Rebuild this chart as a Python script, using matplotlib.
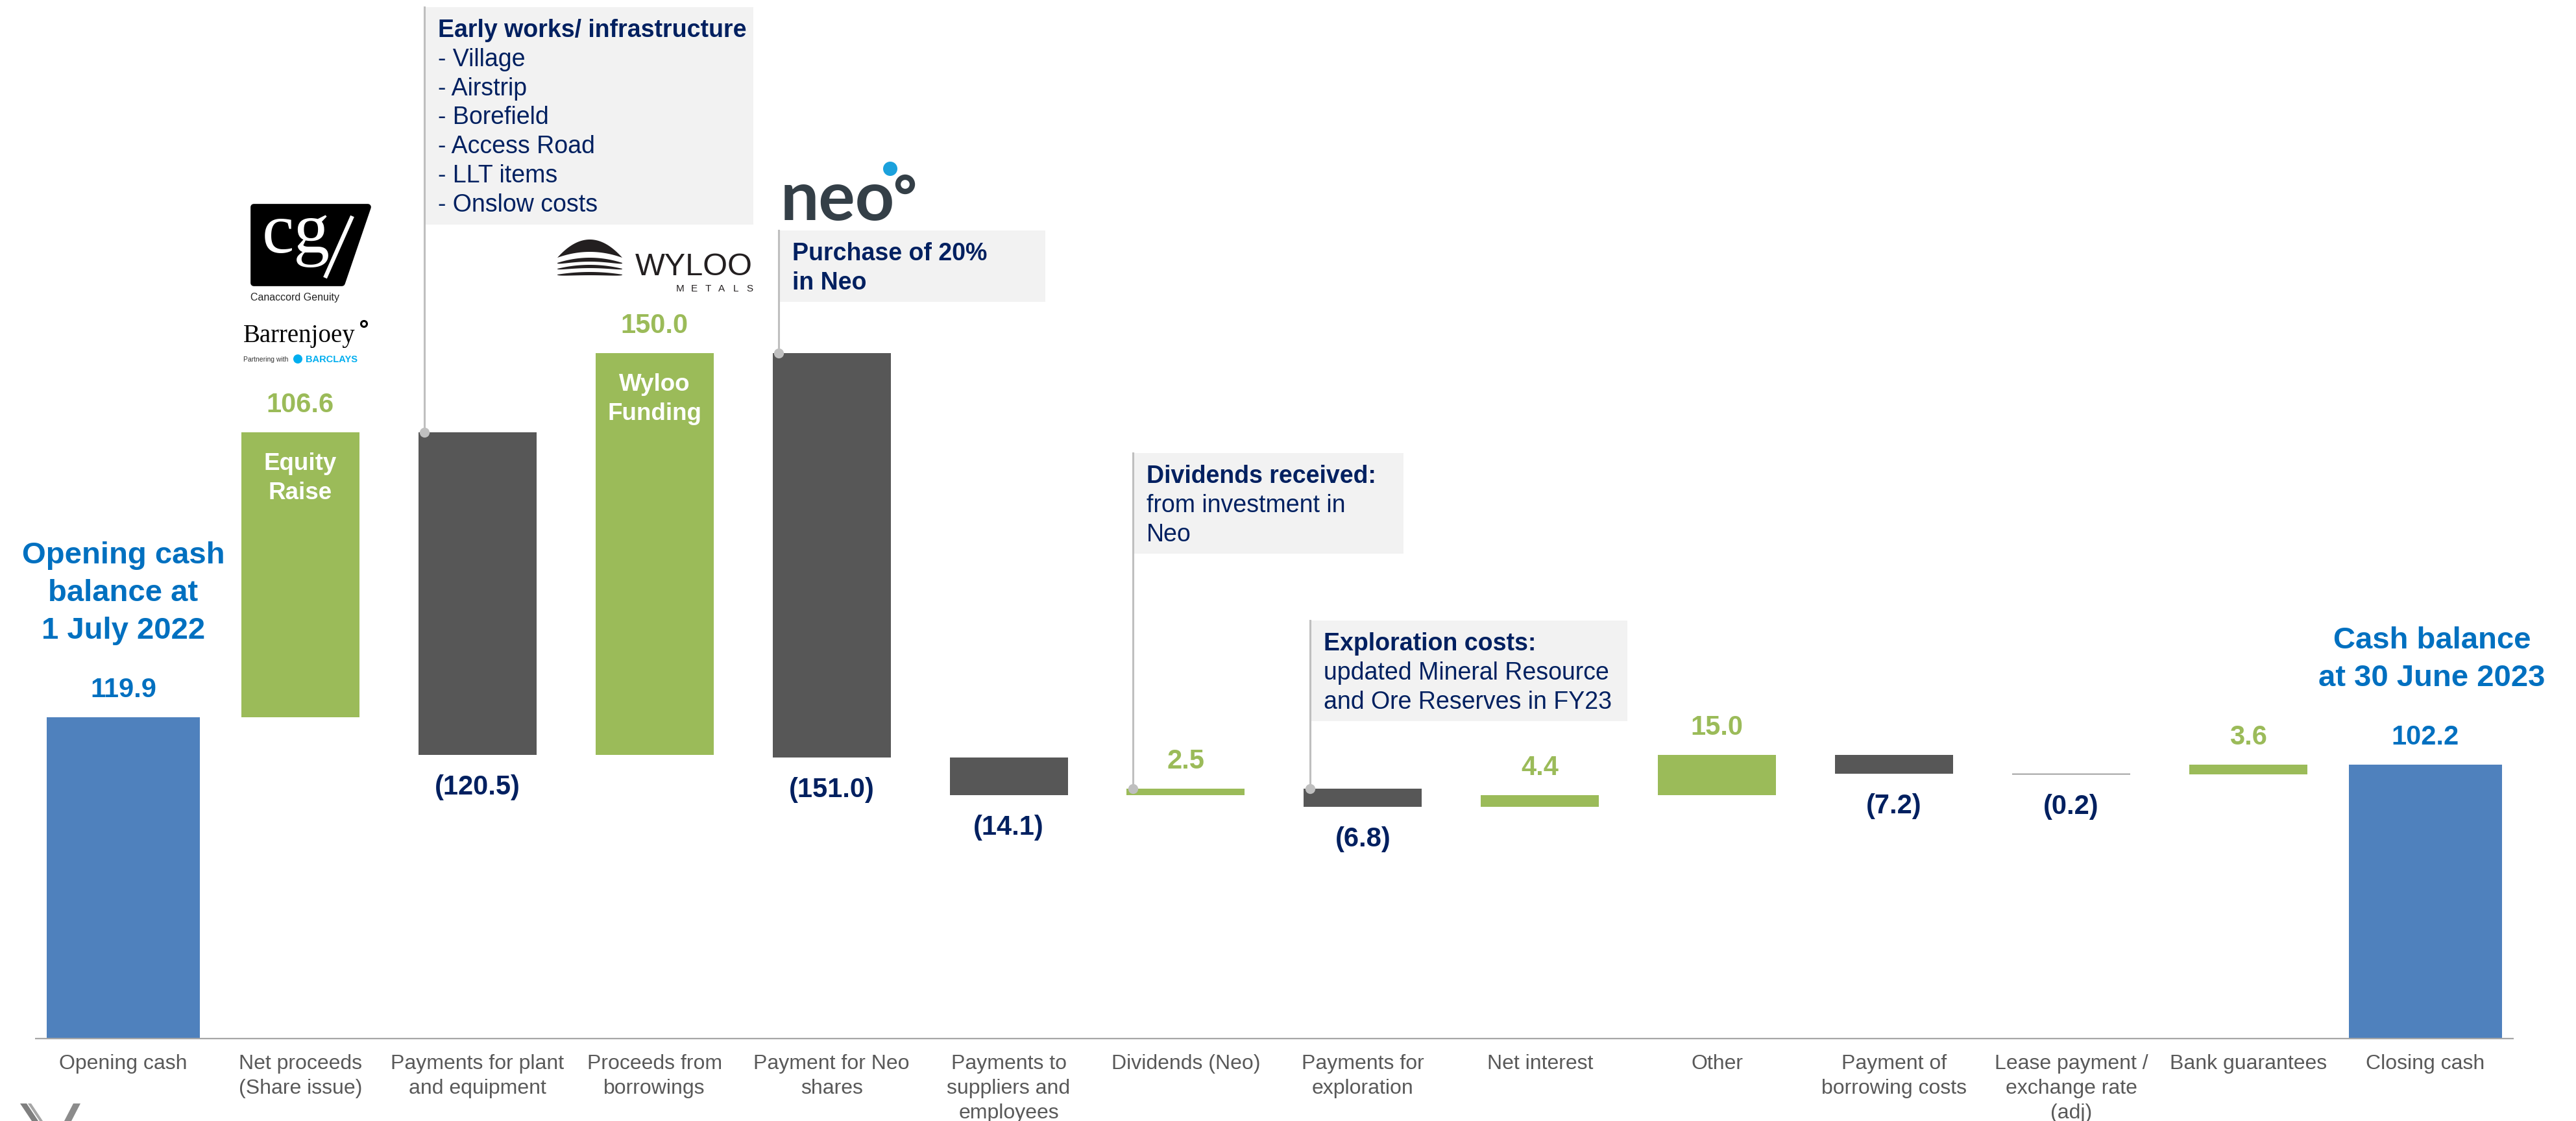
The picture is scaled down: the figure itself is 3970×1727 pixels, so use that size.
import matplotlib
matplotlib.use('Agg')
import matplotlib.pyplot as plt
from matplotlib.patches import Polygon, Rectangle, Circle
from matplotlib.lines import Line2D
import matplotlib.transforms as mtransforms
import matplotlib.font_manager as fm
import numpy as np

# ---------------- data ----------------
categories = ["Opening cash", "Net proceeds\n(Share issue)", "Payments for plant\nand equipment",
              "Proceeds from\nborrowings", "Payment for Neo\nshares",
              "Payments to\nsuppliers and\nemployees", "Dividends (Neo)",
              "Payments for\nexploration", "Net interest", "Other",
              "Payment of\nborrowing costs", "Lease payment /\nexchange rate\n(adj)",
              "Bank guarantees", "Closing cash"]
values = [119.9, 106.6, -120.5, 150.0, -151.0, -14.1, 2.5, -6.8, 4.4, 15.0, -7.2, -0.2, 3.6, 102.2]
is_total = [True] + [False] * 12 + [True]
value_labels = ["119.9", "106.6", "(120.5)", "150.0", "(151.0)", "(14.1)", "2.5", "(6.8)",
                "4.4", "15.0", "(7.2)", "(0.2)", "3.6", "102.2"]
inside_labels = {1: ["Equity", "Raise"], 3: ["Wyloo", "Funding"]}
total_titles = {0: ["Opening cash", "balance at", "1 July 2022"],
                13: ["Cash balance", "at 30 June 2023"]}
callouts = [
    (2, ["Early works/ infrastructure"],
     ["- Village", "- Airstrip", "- Borefield", "- Access Road", "- LLT items", "- Onslow costs"]),
    (4, ["Purchase of 20%", "in Neo"], []),
    (6, ["Dividends received:"], ["from investment in", "Neo"]),
    (7, ["Exploration costs:"], ["updated Mineral Resource", "and Ore Reserves in FY23"]),
]

# ---------------- style ----------------
C_BLUE = "#4F81BD"
C_GREEN = "#9BBB59"
C_GREY = "#575757"
C_TITLE = "#0070C0"
C_NAVY = "#002060"
C_CAT = "#595959"
FONT = ["Liberation Sans", "DejaVu Sans"]
plt.rcParams['font.family'] = FONT

W, H = 3970, 1727
fig = plt.figure(figsize=(W / 100, H / 100), dpi=100)
ax = fig.add_axes([0, 0, 1, 1])
ax.set_xlim(-0.6962, 13.851)
ax.set_ylim(-30.8, 387.9)
ax.axis('off')
PX = mtransforms.Affine2D().scale(1 / W, -1 / H).translate(0, 1) + fig.transFigure


def data_to_px(x, y):
    dx, dy = ax.transData.transform((x, y))
    return dx, H - dy


# ---------------- waterfall ----------------
x = np.arange(len(values))
bottoms, heights, tops, colors, widths = [], [], [], [], []
running = 0.0
for v, tot in zip(values, is_total):
    if tot:
        b, h = 0.0, v
        running = v
        colors.append(C_BLUE)
        widths.append(0.865)
    else:
        start, end = running, running + v
        b, h = min(start, end), abs(v)
        running = end
        colors.append(C_GREEN if v > 0 else C_GREY)
        widths.append(0.667)
    bottoms.append(b)
    heights.append(h)
    tops.append(b + h)

ax.bar(x, heights, bottom=bottoms, width=widths, color=colors, linewidth=0, zorder=2)
ax.hlines(0, -0.5, len(values) - 0.5, color="#A6A6A6", lw=1.6, zorder=3)

# value labels
for i, (lbl, v) in enumerate(zip(value_labels, values)):
    if is_total[i]:
        col = C_TITLE
    elif v > 0:
        col = C_GREEN
    else:
        col = C_NAVY
    if is_total[i] or v > 0:
        ax.annotate(lbl, (x[i], tops[i]), xytext=(0, 31), textcoords='offset pixels',
                    ha='center', va='baseline', fontsize=30, fontweight='bold', color=col)
    else:
        ax.annotate(lbl, (x[i], bottoms[i]), xytext=(0, -61), textcoords='offset pixels',
                    ha='center', va='baseline', fontsize=30, fontweight='bold', color=col)

# category labels
for i, cat in enumerate(categories):
    for j, line in enumerate(cat.split("\n")):
        ax.annotate(line, (x[i], 0), xytext=(0, -(47 + 38 * j)), textcoords='offset pixels',
                    ha='center', va='baseline', fontsize=23, color=C_CAT)

# inside-bar labels
for i, lines in inside_labels.items():
    for j, line in enumerate(lines):
        ax.annotate(line, (x[i], tops[i]), xytext=(0, -(58 + 45 * j)), textcoords='offset pixels',
                    ha='center', va='baseline', fontsize=26.5, fontweight='bold', color='white')

# total titles
for i, lines in total_titles.items():
    n = len(lines)
    dx = 10 if i == len(values) - 1 else 0
    for j, line in enumerate(lines):
        ax.annotate(line, (x[i], tops[i]), xytext=(dx, 121 + 58 * (n - 1 - j)),
                    textcoords='offset pixels', ha='center', va='baseline',
                    fontsize=34, fontweight='bold', color=C_TITLE)

# ---------------- callout boxes ----------------
box_geom = {2: (11, 346, 1161), 4: (355, 465, 1611), 6: (698, 853, 2163), 7: (956, 1111, 2508)}
for i, head, body in callouts:
    top_px, bot_px, right_px = box_geom[i]
    xc = x[i] - widths[i] / 2 + 0.035
    cpx, cpy = data_to_px(xc, tops[i])
    fig.add_artist(Rectangle((cpx, top_px), right_px - cpx, bot_px - top_px, transform=PX,
                             facecolor="#F2F2F2", edgecolor='none', zorder=1))
    fig.add_artist(Line2D([cpx, cpx], [top_px, cpy], transform=PX, color="#BFBFBF",
                          lw=2.2, zorder=5))
    ax.plot([xc], [tops[i]], marker='o', ms=11, color="#BFBFBF", mec='none', zorder=6)
    base = top_px + 46
    k = 0
    for line in head:
        fig.text(cpx + 21, base + 44.8 * k, line, transform=PX, ha='left', va='baseline',
                 fontsize=27, fontweight='bold', color=C_NAVY, zorder=6)
        k += 1
    for line in body:
        fig.text(cpx + 21, base + 44.8 * k, line, transform=PX, ha='left', va='baseline',
                 fontsize=27, color=C_NAVY, zorder=6)
        k += 1

# ---------------- logos ----------------
# Canaccord Genuity
cg = Polygon([(391, 319), (567, 319), (527, 436), (391, 436)], closed=True, transform=PX,
             facecolor='black', edgecolor='black', lw=7, joinstyle='round', zorder=5)
fig.add_artist(cg)
fig.text(404, 389, "cg", transform=PX, ha='left', va='baseline', fontsize=80,
         family=["Liberation Serif", "DejaVu Serif"], color='white', zorder=6)
fig.add_artist(Line2D([543, 501], [333, 428], transform=PX, color='white', lw=4.5, zorder=6,
                      solid_capstyle='butt'))
fig.text(386, 458, "Canaccord Genuity", transform=PX, ha='left', va='center', fontsize=11.5,
         color='#222222', zorder=6)
# Barrenjoey / Barclays
fig.text(375, 527, "Barrenjoey", transform=PX, ha='left', va='baseline', fontsize=28,
         family=["Liberation Serif", "DejaVu Serif"], color='black', zorder=6)
fig.add_artist(Circle((561, 499), 4.5, transform=PX, facecolor='white', edgecolor='black',
                      lw=2.2, zorder=6))
fig.text(375, 554, "Partnering with", transform=PX, ha='left', va='center', fontsize=7.5,
         color='#333333', zorder=6)
fig.add_artist(Circle((459, 553), 7, transform=PX, facecolor='#00AEEF', edgecolor='none', zorder=6))
fig.text(471, 554, "BARCLAYS", transform=PX, ha='left', va='center', fontsize=10.5,
         fontweight='bold', color='#00AEEF', zorder=6)

# Wyloo Metals
WY = "#231F20"
t = np.linspace(-1, 1, 60)
xs = 909 + 50 * t
dome_top = 397 - 28 * (1 - t ** 2)
dome_bot = 397 - 9 * (1 - t ** 2)
fig.add_artist(Polygon(np.column_stack([np.r_[xs, xs[::-1]], np.r_[dome_top, dome_bot[::-1]]]),
                       closed=True, transform=PX, facecolor=WY, edgecolor='none', zorder=6))
for base_y, amp, thick in [(405, 8, 6), (414, 6, 5), (423, 4, 5)]:
    yt = base_y - amp * (1 - t ** 2)
    yb = yt + thick * np.sqrt(1 - t ** 2 + 0.02)
    fig.add_artist(Polygon(np.column_stack([np.r_[xs, xs[::-1]], np.r_[yt, yb[::-1]]]),
                           closed=True, transform=PX, facecolor=WY, edgecolor='none', zorder=6))
names = {f.name for f in fm.fontManager.ttflist}
if "Liberation Sans Narrow" in names:
    fig.text(979, 424, "WYLOO", transform=PX, ha='left', va='baseline', fontsize=47,
             family=["Liberation Sans Narrow", "Liberation Sans"], color=WY, zorder=6)
else:
    fig.text(979, 424, "WYLOO", transform=PX, ha='left', va='baseline', fontsize=35,
             color=WY, zorder=6)
for k, ch in enumerate("METALS"):
    fig.text(1048 + k * 21.5, 449, ch, transform=PX, ha='center', va='baseline', fontsize=11,
             color=WY, zorder=6)

# Neo
NEO = "#343F47"
fig.text(1203, 339, "neo", transform=PX, ha='left', va='baseline', fontsize=76,
         family=["Lato", "Liberation Sans"], fontweight='bold', color=NEO, zorder=6)
fig.add_artist(Circle((1395, 284), 11, transform=PX, facecolor='none', edgecolor=NEO, lw=6,
                      zorder=6))
fig.add_artist(Circle((1372, 260), 11, transform=PX, facecolor='#1BA1DC', edgecolor='none',
                      zorder=7))

# bottom-left logo fragment
fig.add_artist(Polygon([(31, 1700), (41, 1700), (59, 1727), (49, 1727)], closed=True,
                       transform=PX, facecolor='#7F7F7F', edgecolor='none', zorder=6))
fig.add_artist(Polygon([(43, 1700), (48, 1700), (66, 1727), (61, 1727)], closed=True,
                       transform=PX, facecolor='#A6A6A6', edgecolor='none', zorder=6))
fig.add_artist(Polygon([(113, 1700), (124, 1700), (110, 1727), (99, 1727)], closed=True,
                       transform=PX, facecolor='#8C8C8C', edgecolor='none', zorder=6))

fig.savefig("out.png", dpi=100, facecolor='white')
